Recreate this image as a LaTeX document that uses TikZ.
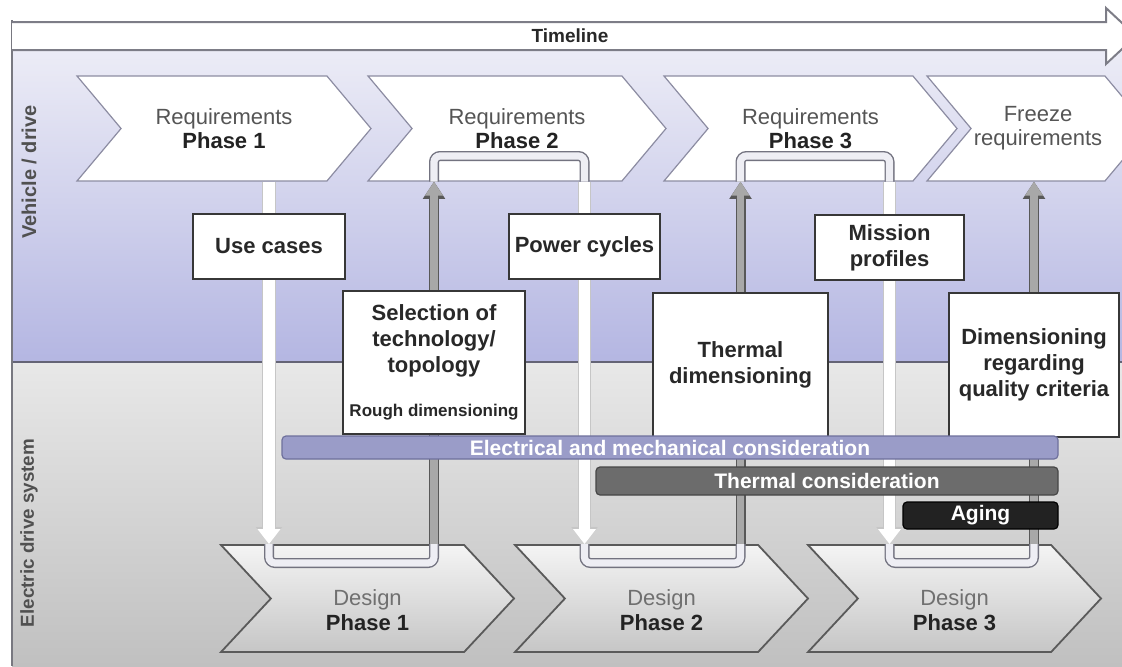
\documentclass[tikz,border=0pt]{standalone}
\usepackage{fontspec}
\setmainfont{Liberation Sans}
\usetikzlibrary{arrows.meta, shapes.symbols, positioning, calc}
\definecolor{bandtop}{RGB}{236,236,246}
\definecolor{bandbot}{RGB}{180,182,226}
\definecolor{lowtop}{RGB}{232,232,232}
\definecolor{lowbot}{RGB}{192,192,192}
\definecolor{divline}{RGB}{100,100,118}
\definecolor{frameline}{RGB}{120,120,128}
\definecolor{tlline}{RGB}{125,125,135}
\definecolor{chevline}{RGB}{140,140,162}
\definecolor{desline}{RGB}{90,90,90}
\definecolor{destop}{RGB}{244,244,244}
\definecolor{desbot}{RGB}{198,198,198}
\definecolor{reqgray}{RGB}{85,85,85}
\definecolor{desgray}{RGB}{112,112,112}
\definecolor{phasecol}{RGB}{35,35,35}
\definecolor{sidegray}{RGB}{80,80,80}
\definecolor{boxline}{RGB}{55,55,55}
\definecolor{boxtext}{RGB}{40,40,40}
\definecolor{elecfill}{RGB}{154,156,200}
\definecolor{elecline}{RGB}{110,112,156}
\definecolor{thermfill}{RGB}{108,108,108}
\definecolor{thermline}{RGB}{70,70,70}
\definecolor{agingfill}{RGB}{34,34,34}
\definecolor{pipeline}{RGB}{115,115,128}
\definecolor{pipefill}{RGB}{238,238,244}
\definecolor{upfill}{RGB}{168,168,168}
\definecolor{upline}{RGB}{88,88,88}
\pgfdeclarelayer{back}
\pgfdeclarelayer{pipes}
\pgfsetlayers{back,pipes,main}

\begin{document}
\begin{tikzpicture}[
    x=0.5pt, y=-0.5pt,
    reqchev/.style={signal, signal from=west, signal to=east, signal pointer angle=100,
        draw=chevline, line width=0.6pt, fill=white, minimum height=52.5pt, inner sep=0pt,
        align=center, font=\fontsize{11}{12}\selectfont, text=reqgray},
    deschev/.style={signal, signal from=west, signal to=east, signal pointer angle=94,
        draw=desline, line width=0.9pt, top color=destop, bottom color=desbot,
        minimum width=146.5pt, minimum height=53.5pt, inner sep=0pt},
    destext/.style={align=center, font=\fontsize{11}{12.5}\selectfont, text=desgray},
    whitebox/.style={rectangle, draw=boxline, line width=1pt, fill=white, align=center,
        font=\fontsize{11}{13}\selectfont\bfseries, text=boxtext, inner sep=2pt},
    bar/.style={rectangle, rounded corners=2pt, line width=0.6pt, inner sep=0pt,
        font=\fontsize{10.5}{12}\selectfont\bfseries, text=white},
    pipe/.style={draw=pipeline, line width=0.7pt, double=pipefill, double distance=3.6pt,
        rounded corners=3pt},
    downarrow/.style={draw=white, line width=5.6pt, -{Triangle[length=7.5pt, width=11pt]},
        preaction={draw=gray!45, line width=6.6pt, -{Triangle[length=8.5pt, width=12.6pt]}}},
    uparrow/.style={draw=upfill, line width=3.6pt, -{Triangle[length=7pt, width=8.5pt]},
        preaction={draw=upline, line width=5pt, -{Triangle[length=8.6pt, width=10.6pt]}}},
    sidelabel/.style={rotate=90, font=\fontsize{10}{12}\selectfont\bfseries, text=sidegray}
]
    \useasboundingbox (0,0) rectangle (1122,666);
    \clip (0,0) rectangle (1122,666);

    \begin{pgfonlayer}{back}
    % Bands
    \shade[top color=bandtop, bottom color=bandbot] (12,50) rectangle (1122,362);
    \shade[top color=lowtop, bottom color=lowbot] (12,362) rectangle (1122,666);
    \draw[line width=1pt, divline] (12,362) -- (1122,362);
    \draw[line width=1pt, frameline] (12,20) -- (12,666);

    % Timeline
    \draw[fill=white, draw=tlline, line width=1pt] (12,22) -- (1106,22) -- (1106,8)
        -- (1136,36) -- (1106,64) -- (1106,50) -- (12,50);
    \node[font=\fontsize{9.5}{11}\selectfont\bfseries, text=boxtext] (timeline) at (570,36) {Timeline};

    % Side labels
    \node[sidelabel] (vehicle) at (29,172) {Vehicle / drive};
    \node[sidelabel, font=\fontsize{9.4}{11}\selectfont\bfseries] (eds) at (29,533) {Electric drive system};

    % Requirement chevrons
    \node[reqchev, minimum width=147pt]   (req1) at (224,128.5)   {Requirements\\\textbf{\color{phasecol}Phase 1}};
    \node[reqchev, minimum width=149pt]   (req2) at (517,128.5)   {Requirements\\\textbf{\color{phasecol}Phase 2}};
    \node[reqchev, minimum width=146.5pt] (req3) at (810.5,128.5) {Requirements\\\textbf{\color{phasecol}Phase 3}};
    \node[reqchev, minimum width=111pt]   (req4) at (1038,128.5)  {Freeze\\requirements};

    % Design chevrons
    \foreach \i/\x in {1/367.5, 2/661.5, 3/954.5} {
        \node[deschev] (des\i) at (\x,598.5) {};
        \node[destext] (dtxt\i) at ([yshift=-6pt]des\i.center) {Design\\\textbf{\color{phasecol}Phase \i}};
    }
    \end{pgfonlayer}

    \coordinate (rloop) at (0,156);
    \coordinate (dloop) at (0,563);

    % Boxes
    \node[whitebox, minimum width=76pt, minimum height=32.5pt]   (usecases)   at (269,246.5)   {Use cases};
    \node[whitebox, minimum width=75.5pt, minimum height=32.5pt] (power)      at (584.5,246.5) {Power cycles};
    \node[whitebox, minimum width=74.5pt, minimum height=32.5pt] (mission)    at (889.5,247.5) {Mission\\profiles};
    \node[whitebox, minimum width=91pt, minimum height=71.5pt]   (select)     at (434,362.5)
        {Selection of\\technology/\\topology\\[9pt]{\fontsize{8.5}{10}\selectfont Rough dimensioning}};
    \node[whitebox, minimum width=87.5pt, minimum height=72pt]   (thermaldim) at (740.5,365)   {Thermal\\dimensioning};
    \node[whitebox, minimum width=85pt, minimum height=72pt]     (quality)    at (1034,365)    {Dimensioning\\regarding\\quality criteria};

    % Consideration bars
    \node[bar, fill=elecfill, draw=elecline, minimum width=388pt, minimum height=11.5pt] (elec) at (670,447.5)
        {Electrical and mechanical consideration};
    \node[bar, fill=thermfill, draw=thermline, minimum width=231pt, minimum height=14pt] (thermal) at (827,481)
        {Thermal consideration};
    \node[bar, fill=agingfill, draw=black, minimum width=77.5pt, minimum height=13.5pt] (aging) at (980.5,515.5)
        {Aging};

    \begin{pgfonlayer}{pipes}
    % Loops
    \foreach \d/\u/\n in {usecases/select/1, power/thermaldim/2, mission/quality/3}
        \draw[pipe] (\d |- des\n.north) -- (\d |- dloop) -- (\u |- dloop) -- (\u |- des\n.north);
    \foreach \u/\d/\n in {select/power/2, thermaldim/mission/3}
        \draw[pipe] (\u |- req\n.south) -- (\u |- rloop) -- (\d |- rloop) -- (\d |- req\n.south);

    % Arrows
    \foreach \d/\n in {usecases/1, power/2, mission/3}
        \draw[downarrow] (\d |- req\n.south) -- (\d |- des\n.north);
    \foreach \u/\n/\m in {select/1/2, thermaldim/2/3, quality/3/4}
        \draw[uparrow] (\u |- des\n.north) -- (\u |- req\m.south);
    \end{pgfonlayer}
\end{tikzpicture}
\end{document}
